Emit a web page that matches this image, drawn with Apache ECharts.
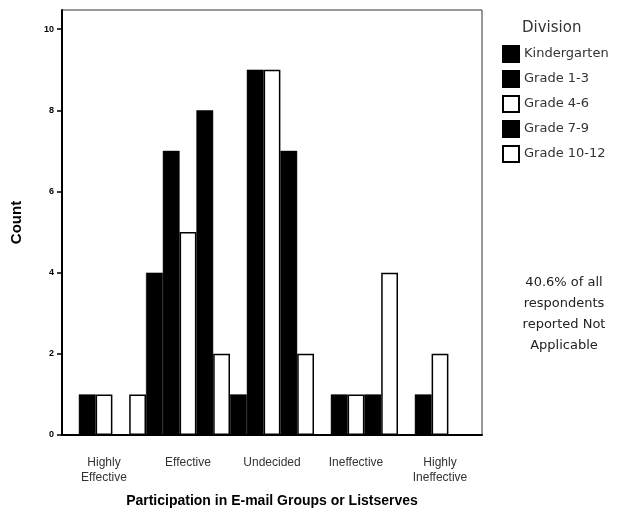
<!DOCTYPE html>
<html>
<head>
<meta charset="utf-8">
<script src="https://cdn.jsdelivr.net/npm/echarts@6/dist/echarts.min.js"></script>
<style>
  html, body { margin: 0; padding: 0; background: #fff; }
  #chart { width: 624px; height: 520px; }
</style>
</head>
<body>
<div id="chart"></div>
<script>
// Ratings of participation in e-mail groups, by school division
var categories = ['Highly\nEffective', 'Effective', 'Undecided', 'Ineffective', 'Highly\nIneffective'];
var divisions = ['Kindergarten', 'Grade 1-3', 'Grade 4-6', 'Grade 7-9', 'Grade 10-12'];
var kindergarten = [0, 4, 1, 0, 0];
var grade1to3 = [1, 7, 9, 1, 1];
var grade4to6 = [1, 5, 9, 1, 2];
var grade7to9 = [0, 8, 7, 1, 0];
var grade10to12 = [1, 2, 2, 4, 0];
var yTicks = [0, 2, 4, 6, 8, 10];
var noteText = '40.6% of all\nrespondents\nreported Not\nApplicable';

var seriesValues = [kindergarten, grade1to3, grade4to6, grade7to9, grade10to12];
var filled = [true, true, false, true, false];

var sans = 'Liberation Sans, Arial, sans-serif';
var wide = 'DejaVu Sans, Verdana, sans-serif';

var chart = echarts.init(document.getElementById('chart'), null, { renderer: 'canvas' });

var series = divisions.map(function (name, i) {
  return {
    name: name,
    type: 'bar',
    data: seriesValues[i],
    barGap: '0%',
    barCategoryGap: '0%',
    itemStyle: filled[i]
      ? { color: '#000', borderColor: '#000', borderWidth: 0.5 }
      : { color: '#fff', borderColor: '#000', borderWidth: 1.5 },
    emphasis: { disabled: true }
  };
});

chart.setOption({
  animation: false,
  backgroundColor: '#fff',
  textStyle: { fontFamily: sans },
  grid: {
    left: 62, top: 10, width: 420, height: 425,
    show: true, borderColor: '#333', borderWidth: 1
  },
  legend: {
    orient: 'vertical',
    left: 497, top: 40,
    itemWidth: 16, itemHeight: 16, itemGap: 7,
    icon: 'rect',
    textStyle: { fontSize: 13, color: '#333', fontFamily: wide },
    data: divisions
  },
  graphic: [
    {
      type: 'text', left: 522, top: 21,
      style: { text: 'Division', fontSize: 15, fill: '#333', fontFamily: wide }
    },
    {
      type: 'text', x: 564, y: 272,
      style: {
        text: noteText, fontSize: 13, lineHeight: 21, fill: '#222',
        align: 'center', fontFamily: wide
      }
    }
  ],
  xAxis: {
    type: 'category',
    data: categories,
    boundaryGap: true,
    name: 'Participation in E-mail Groups or Listserves',
    nameLocation: 'middle',
    nameGap: 59,
    nameTextStyle: { fontSize: 14, fontWeight: 'bold', color: '#000' },
    axisLine: { lineStyle: { color: '#000', width: 2 } },
    axisTick: { alignWithLabel: true, length: 8, lineStyle: { color: '#000', width: 1.5 } },
    axisLabel: { fontSize: 12, color: '#333', margin: 20, lineHeight: 15, interval: 0 }
  },
  yAxis: {
    type: 'value',
    min: 0, max: 10.47,
    name: 'Count',
    nameLocation: 'middle',
    nameGap: 38,
    nameRotate: 90,
    nameTextStyle: { fontSize: 15, fontWeight: 'bold', color: '#000' },
    axisLine: { show: true, lineStyle: { color: '#000', width: 2 } },
    axisTick: { show: true, inside: false, length: 5, customValues: yTicks, lineStyle: { color: '#000', width: 1.5 } },
    axisLabel: { fontSize: 9, fontWeight: 'bold', color: '#000', margin: 8, customValues: yTicks },
    splitLine: { show: false }
  },
  series: series
});
</script>
</body>
</html>
